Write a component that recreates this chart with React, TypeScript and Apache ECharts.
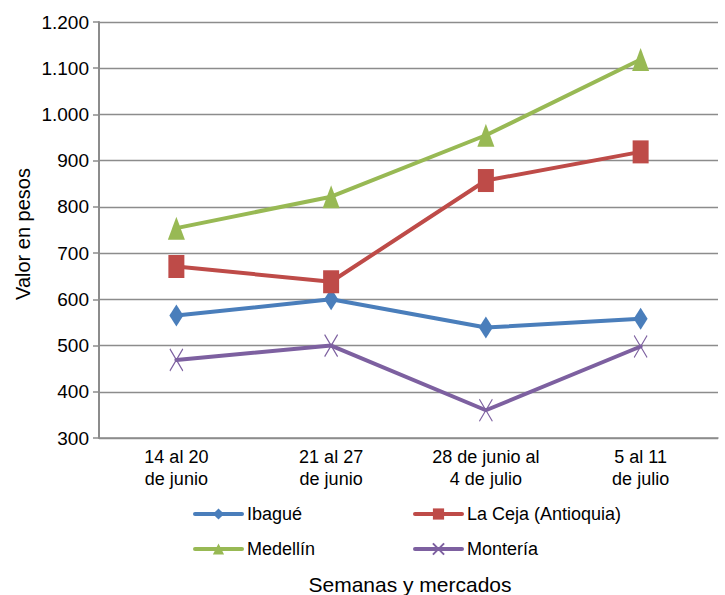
import React, { useEffect, useRef } from "react";
import * as echarts from "echarts";

const categories = ["14 al 20\nde junio", "21 al 27\nde junio", "28 de junio al\n4 de julio", "5 al 11\nde julio"];
const ibague = [565, 600, 539, 558];
const laCeja = [671, 638, 857, 919];
const medellin = [754, 822, 955, 1119];
const monteria = [469, 500, 360, 498];
const seriesNames = ["Ibagué", "La Ceja (Antioquia)", "Medellín", "Montería"];
const yTicks = { min: 300, max: 1200, interval: 100 };

const FONT = "'Liberation Sans', Arial, sans-serif";
const BLUE = "#4a7ebb";
const RED = "#be4b48";
const GREEN = "#98b954";
const PURPLE = "#7d60a0";
const GRID = "#8c8c8c";

function fmt(v: number): string {
  return String(v).replace(/\B(?=(\d{3})+(?!\d))/g, ".");
}

export default function App() {
  const ref = useRef<HTMLDivElement>(null);
  useEffect(() => {
    if (!ref.current) return;
    const chart = echarts.init(ref.current, undefined, { renderer: "svg" });
    const mk = (name: string, data: number[], color: string, symbol: string, size: number[], extra: any = {}) => ({
      name,
      type: "line",
      data,
      symbol,
      symbolSize: size,
      lineStyle: { color, width: 4, cap: "round" },
      itemStyle: { color, ...extra },
      z: 3,
    });
    const legendCommon = {
      orient: "vertical",
      top: 504,
      padding: 0,
      itemWidth: 47,
      itemHeight: 14,
      itemGap: 15,
      lineStyle: { width: 4, cap: "round" },
      textStyle: { fontSize: 18, color: "#000", fontFamily: FONT, lineHeight: 20 },
    };
    chart.setOption({
      animation: false,
      backgroundColor: "#ffffff",
      textStyle: { fontFamily: FONT },
      grid: { left: 99, right: 7, top: 22, bottom: 157, containLabel: false },
      xAxis: {
        type: "category",
        data: categories,
        boundaryGap: true,
        axisLine: { lineStyle: { color: GRID, width: 1.5 } },
        axisTick: { show: false },
        axisLabel: { color: "#000", fontSize: 18, lineHeight: 22, margin: 8, fontFamily: FONT, interval: 0 },
      },
      yAxis: {
        type: "value",
        min: yTicks.min,
        max: yTicks.max,
        interval: yTicks.interval,
        axisLine: { show: true, lineStyle: { color: GRID, width: 2 } },
        axisTick: { show: true, length: 6, lineStyle: { color: GRID, width: 1.5 } },
        splitLine: { show: true, lineStyle: { color: GRID, width: 1.3 } },
        axisLabel: { color: "#000", fontSize: 19, margin: 10, fontFamily: FONT, formatter: (v: number) => fmt(v) },
      },
      legend: [
        { ...legendCommon, data: [seriesNames[0], seriesNames[2]], left: 193 },
        { ...legendCommon, data: [seriesNames[1], seriesNames[3]], left: 413 },
      ],
      graphic: [
        {
          type: "text",
          x: 23,
          y: 234,
          rotation: Math.PI / 2,
          style: { text: "Valor en pesos", font: `20px ${FONT}`, fill: "#000", align: "center", verticalAlign: "middle" },
        },
        {
          type: "text",
          x: 410,
          y: 584,
          style: { text: "Semanas y mercados", font: `21px ${FONT}`, fill: "#000", align: "center", verticalAlign: "middle" },
        },
      ],
      series: [
        mk(seriesNames[0], ibague, BLUE, "diamond", [14, 22]),
        mk(seriesNames[1], laCeja, RED, "rect", [16, 23]),
        mk(seriesNames[2], medellin, GREEN, "triangle", [17, 23]),
        mk(seriesNames[3], monteria, PURPLE, "path://M0,0L13,22M13,0L0,22", [13, 22], {
          borderColor: PURPLE,
          borderWidth: 1.3,
        }),
      ],
    });
    return () => chart.dispose();
  }, []);
  return <div ref={ref} style={{ position: "fixed", left: 0, top: 0, width: 725, height: 595 }} />;
}
